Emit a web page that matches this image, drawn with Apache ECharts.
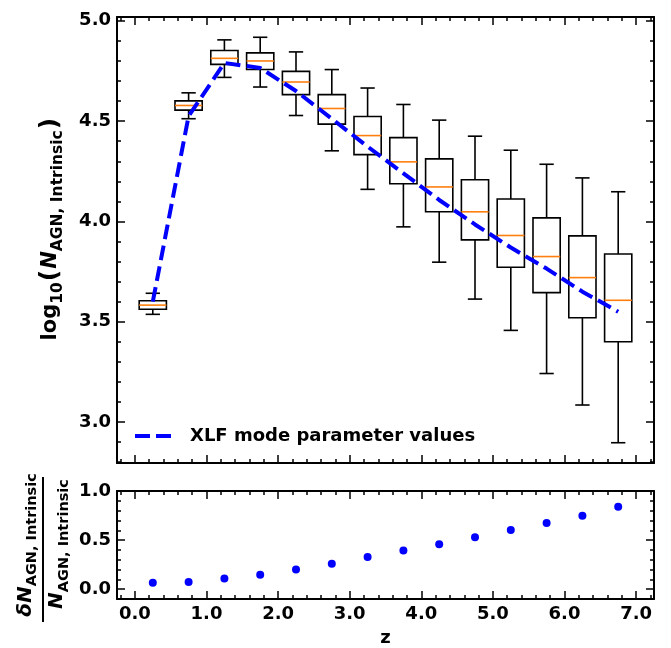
<!DOCTYPE html>
<html>
<head>
<meta charset="utf-8">
<script src="https://cdn.jsdelivr.net/npm/echarts@6/dist/echarts.min.js"></script>
<style>
html,body{margin:0;padding:0;background:#fff;}
#chart{width:671px;height:648px;}
</style>
</head>
<body>
<div id="chart"></div>
<script>
// ---- data ----
const zCenters = [0.25, 0.75, 1.25, 1.75, 2.25, 2.75, 3.25, 3.75, 4.25, 4.75, 5.25, 5.75, 6.25, 6.75];
const whiskerLow  = [3.537, 4.512, 4.718, 4.670, 4.528, 4.352, 4.160, 3.973, 3.797, 3.613, 3.457, 3.242, 3.085, 2.897];
const quartile1   = [3.562, 4.555, 4.783, 4.757, 4.632, 4.485, 4.333, 4.188, 4.048, 3.908, 3.772, 3.645, 3.520, 3.400];
const medianVals  = [3.583, 4.578, 4.813, 4.800, 4.695, 4.563, 4.428, 4.297, 4.172, 4.048, 3.930, 3.825, 3.720, 3.607];
const quartile3   = [3.605, 4.601, 4.852, 4.840, 4.748, 4.632, 4.523, 4.418, 4.312, 4.208, 4.112, 4.018, 3.928, 3.838];
const whiskerHigh = [3.642, 4.641, 4.905, 4.918, 4.845, 4.757, 4.665, 4.583, 4.505, 4.425, 4.355, 4.285, 4.217, 4.148];
const xlfMode     = [3.600, 4.525, 4.790, 4.765, 4.650, 4.512, 4.373, 4.240, 4.107, 3.985, 3.870, 3.765, 3.650, 3.550];
const relError    = [0.065, 0.074, 0.110, 0.147, 0.200, 0.260, 0.327, 0.394, 0.457, 0.530, 0.604, 0.674, 0.747, 0.840];

const xMajorTicks = [0, 1, 2, 3, 4, 5, 6, 7];
const topYMajorTicks = [3.0, 3.5, 4.0, 4.5, 5.0];
const botYMajorTicks = [0.0, 0.5, 1.0];

function stepTicks(start, end, step) {
  const out = [];
  for (let v = start; v <= end + 1e-9; v += step) out.push(Math.round(v * 1000) / 1000);
  return out;
}
const xMinorTicks = stepTicks(-0.2, 7.2, 0.2);
const topYMinorTicks = stepTicks(2.8, 5.0, 0.1);
const botYMinorTicks = stepTicks(-0.1, 1.0, 0.1);

const FONT = 'DejaVu Sans';
const X_MIN = -0.25, X_MAX = 7.25;
const TOP_MIN = 2.796, TOP_MAX = 5.019;
const BOT_MIN = -0.1, BOT_MAX = 1.0;

function axisSet(dim, grid, min, max, majors, minors, showLabels, posA, posB) {
  const base = {
    type: 'value', gridIndex: grid, min: min, max: max,
    splitLine: {show: false}, axisPointer: {show: false}
  };
  const lbl = {
    show: showLabels, customValues: majors, color: '#000', fontFamily: FONT,
    fontWeight: 'bold', fontSize: 18, margin: 6,
    formatter: v => Number(v).toFixed(1)
  };
  const mk = (pos, vals, len, line, label) => Object.assign({}, base, {
    position: pos,
    axisLine: {show: line, onZero: false, lineStyle: {color: '#000', width: 2}},
    axisTick: {show: true, inside: true, customValues: vals, length: len, lineStyle: {color: '#000', width: 1.5}},
    axisLabel: label ? lbl : {show: false}
  });
  return [
    mk(posA, majors, 8, true, showLabels),
    mk(posA, minors, 4, false, false),
    mk(posB, majors, 8, true, false),
    mk(posB, minors, 4, false, false)
  ];
}

const xAxes = [].concat(
  axisSet('x', 0, X_MIN, X_MAX, xMajorTicks, xMinorTicks, false, 'bottom', 'top'),
  axisSet('x', 1, X_MIN, X_MAX, xMajorTicks, xMinorTicks, true, 'bottom', 'top')
);
xAxes[4].name = 'z';
xAxes[4].nameLocation = 'middle';
xAxes[4].nameGap = 30;
xAxes[4].nameTextStyle = {color: '#000', fontFamily: FONT, fontWeight: 'bold', fontSize: 18};

const yAxes = [].concat(
  axisSet('y', 0, TOP_MIN, TOP_MAX, topYMajorTicks, topYMinorTicks, true, 'left', 'right'),
  axisSet('y', 1, BOT_MIN, BOT_MAX, botYMajorTicks, botYMinorTicks, true, 'left', 'right')
);

const boxData = zCenters.map((z, i) => [z, whiskerLow[i], quartile1[i], medianVals[i], quartile3[i], whiskerHigh[i]]);
const lineData = zCenters.map((z, i) => [z, xlfMode[i]]);
const errData = zCenters.map((z, i) => [z, relError[i]]);

const BOX_W = 0.38, CAP_W = 0.2;

function renderBox(params, api) {
  const x = api.value(0);
  const pL = api.coord([x, api.value(1)]);
  const p1 = api.coord([x, api.value(2)]);
  const pM = api.coord([x, api.value(3)]);
  const p3 = api.coord([x, api.value(4)]);
  const pH = api.coord([x, api.value(5)]);
  const hb = api.size([BOX_W, 0])[0] / 2;
  const hc = api.size([CAP_W, 0])[0] / 2;
  const cx = pM[0];
  const blk = {stroke: '#000', lineWidth: 1.6, fill: null};
  return {
    type: 'group',
    children: [
      {type: 'line', shape: {x1: cx, y1: pL[1], x2: cx, y2: p1[1]}, style: blk},
      {type: 'line', shape: {x1: cx, y1: p3[1], x2: cx, y2: pH[1]}, style: blk},
      {type: 'line', shape: {x1: cx - hc, y1: pL[1], x2: cx + hc, y2: pL[1]}, style: blk},
      {type: 'line', shape: {x1: cx - hc, y1: pH[1], x2: cx + hc, y2: pH[1]}, style: blk},
      {type: 'rect', shape: {x: cx - hb, y: p3[1], width: 2 * hb, height: p1[1] - p3[1]}, style: {stroke: '#000', lineWidth: 1.6, fill: 'rgba(0,0,0,0)'}},
      {type: 'line', shape: {x1: cx - hb, y1: pM[1], x2: cx + hb, y2: pM[1]}, style: {stroke: '#ff7f0e', lineWidth: 1.6}}
    ]
  };
}

const chart = echarts.init(document.getElementById('chart'), null, {renderer: 'canvas'});

const subStyle = {fontFamily: FONT, fontWeight: 'bold', fontSize: 15.5, lineHeight: 15.5, verticalAlign: 'bottom', fill: '#000'};
const mainStyle = {fontFamily: FONT, fontWeight: 'bold', fontSize: 21, lineHeight: 30, verticalAlign: 'middle', fill: '#000'};
const italStyle = Object.assign({}, mainStyle, {fontStyle: 'italic'});
const parStyle = Object.assign({}, mainStyle, {fontSize: 25, padding: [0, 1, 0, 1]});

const fracSub = Object.assign({}, subStyle, {fontSize: 14.5, lineHeight: 14.5});
const fracMain = Object.assign({}, italStyle, {fontSize: 20, lineHeight: 29});

chart.setOption({
  animation: false,
  backgroundColor: '#fff',
  grid: [
    {left: 117, top: 17, width: 537, height: 446, containLabel: false},
    {left: 117, top: 491, width: 537, height: 111, containLabel: false}
  ],
  xAxis: xAxes,
  yAxis: yAxes,
  legend: {
    show: true, left: 133, top: 427, padding: 0,
    itemWidth: 36, itemHeight: 14,
    data: ['XLF mode parameter values'],
    textStyle: {color: '#000', fontFamily: FONT, fontWeight: 'bold', fontSize: 18, padding: [0, 0, 0, 14]},
    itemStyle: {color: 'rgba(0,0,0,0)', borderWidth: 0, opacity: 0},
    lineStyle: {width: 4, type: [15, 6]}
  },
  series: [
    {
      type: 'custom', name: 'boxes', xAxisIndex: 0, yAxisIndex: 0,
      renderItem: renderBox, data: boxData, z: 2,
      encode: {x: 0, y: [1, 2, 3, 4, 5]}
    },
    {
      type: 'line', name: 'XLF mode parameter values', xAxisIndex: 0, yAxisIndex: 0,
      data: lineData, symbol: 'none', showSymbol: false, z: 5,
      lineStyle: {color: '#0000ff', width: 4, type: [14.8, 6.4]},
      itemStyle: {color: '#0000ff'}
    },
    {
      type: 'scatter', name: 'err', xAxisIndex: 4, yAxisIndex: 4,
      data: errData, symbol: 'circle', symbolSize: 8,
      itemStyle: {color: '#0000ff', opacity: 1}
    }
  ],
  graphic: [
    {
      type: 'text', x: 50.5, y: 228.6, rotation: Math.PI / 2,
      style: {
        text: '{m|log}{s|10}{p|(}{n|N}{s|AGN, Intrinsic}{p|)}',
        align: 'center', verticalAlign: 'middle',
        rich: {m: mainStyle, s: subStyle, n: italStyle, p: parStyle}
      }
    },
    {
      type: 'text', x: 25.5, y: 545, rotation: Math.PI / 2,
      style: {
        text: '{n|δN}{s|AGN, Intrinsic}',
        align: 'center', verticalAlign: 'middle',
        rich: {n: fracMain, s: fracSub}
      }
    },
    {
      type: 'line', shape: {x1: 43, y1: 477, x2: 43, y2: 622},
      style: {stroke: '#000', lineWidth: 2}
    },
    {
      type: 'text', x: 57, y: 544, rotation: Math.PI / 2,
      style: {
        text: '{n|N}{s|AGN, Intrinsic}',
        align: 'center', verticalAlign: 'middle',
        rich: {n: fracMain, s: fracSub}
      }
    }
  ]
});
</script>
</body>
</html>
